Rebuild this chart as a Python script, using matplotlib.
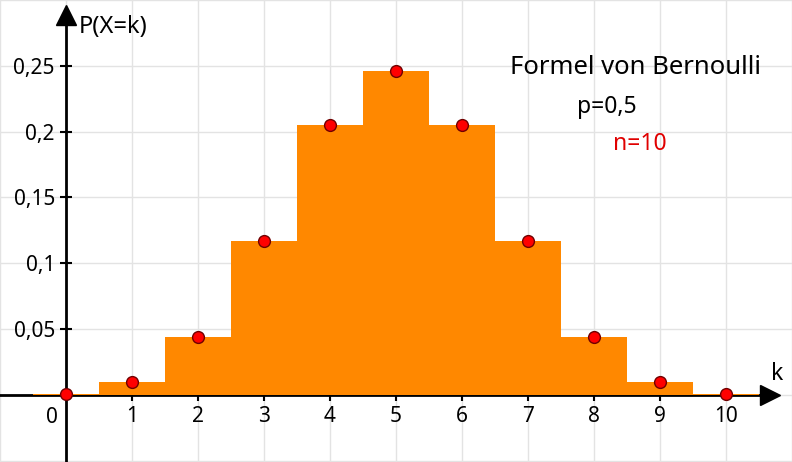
import matplotlib
matplotlib.use("Agg")
import matplotlib.pyplot as plt

# Binomial distribution B(10, 0.5)
k_values = [0, 1, 2, 3, 4, 5, 6, 7, 8, 9, 10]
probabilities = [0.0010, 0.0098, 0.0439, 0.1172, 0.2051, 0.2461,
                 0.2051, 0.1172, 0.0439, 0.0098, 0.0010]
x_tick_labels = ["1", "2", "3", "4", "5", "6", "7", "8", "9", "10"]
y_ticks = [0.05, 0.10, 0.15, 0.20, 0.25]
y_tick_labels = ["0,05", "0,1", "0,15", "0,2", "0,25"]

plt.rcParams["font.family"] = ["Noto Sans", "DejaVu Sans"]

fig = plt.figure(figsize=(7.92, 4.62), dpi=100)
ax = fig.add_axes([0, 0, 1, 1])
ax.set_xlim(-1, 11)
ax.set_ylim(-0.0509, 0.300)

# light grid
grid_color = "#e3e3e3"
ax.vlines(range(-1, 12), -0.06, 0.31, color=grid_color, lw=1, zorder=0)
ax.hlines([-0.05, 0.0, 0.05, 0.10, 0.15, 0.20, 0.25, 0.30], -1, 11,
          color=grid_color, lw=1, zorder=0)

# axes through the origin
for side in ("top", "right"):
    ax.spines[side].set_visible(False)
ax.spines["left"].set_position(("data", 0))
ax.spines["bottom"].set_position(("data", 0))
ax.spines["left"].set_linewidth(2)
ax.spines["bottom"].set_linewidth(2)
ax.spines["bottom"].set_bounds(-1, 10.6)
ax.spines["left"].set_bounds(-0.0509, 0.29)
ax.spines["left"].set_zorder(2)
ax.spines["bottom"].set_zorder(2)

# arrow heads
ax.plot(10.66, 0, marker=">", color="black", markersize=14, clip_on=False, zorder=5)
ax.plot(0, 0.2885, marker="^", color="black", markersize=14, clip_on=False, zorder=5)

ax.set_xticks(k_values[1:])
ax.set_xticklabels(x_tick_labels)
ax.set_yticks(y_ticks)
ax.set_yticklabels(y_tick_labels)
ax.tick_params(axis="both", direction="inout", length=8, width=1.5,
               labelsize=15, colors="black")
ax.tick_params(axis="x", pad=4)
ax.tick_params(axis="y", pad=4)

# histogram bars and point probabilities
ax.bar(k_values, probabilities, width=1.0, color="#ff8800", linewidth=0, zorder=3)
ax.plot(k_values, probabilities, "o", color="#ff0000", markeredgecolor="#700000",
        markeredgewidth=1, markersize=8.5, zorder=6, clip_on=False)

# labels
ax.text(-0.21, -0.017, "0", fontsize=15, ha="center", va="center")
ax.text(0.2, 0.2796, "P(X=k)", fontsize=17, ha="left", va="center")
ax.text(10.77, 0.016, "k", fontsize=16.5, ha="center", va="center")
ax.text(6.73, 0.2485, "Formel von Bernoulli", fontsize=18.5, ha="left", va="center")
ax.text(7.74, 0.2185, "p=0,5", fontsize=16.5, ha="left", va="center")
ax.text(8.29, 0.1905, "n=10", fontsize=16.5, ha="left", va="center", color="#e00000")

fig.savefig("out.png", dpi=100)
